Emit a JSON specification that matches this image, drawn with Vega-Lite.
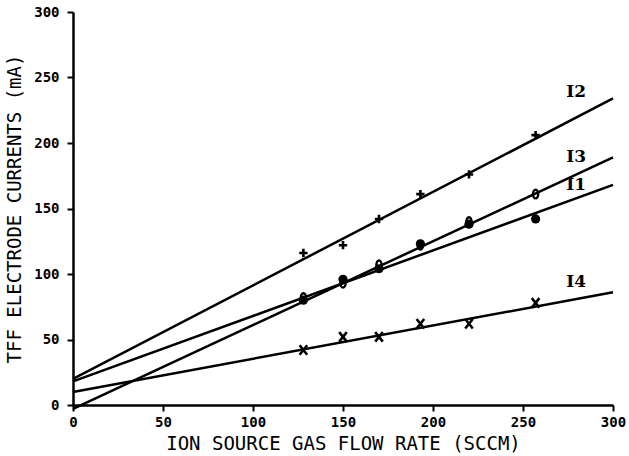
{
  "$schema": "https://vega.github.io/schema/vega-lite/v6.json",
  "width": 540,
  "height": 393,
  "autosize": {"type": "none"},
  "padding": {"left": 73, "top": 12, "right": 16, "bottom": 51},
  "background": "white",
  "config": {
    "view": {"stroke": null},
    "axis": {
      "grid": false,
      "domainColor": "black",
      "domainWidth": 2.5,
      "tickColor": "black",
      "tickWidth": 2,
      "tickSize": 6,
      "labelFlush": false,
      "labelOverlap": false,
      "labelBound": false,
      "labelFont": "DejaVu Sans Mono",
      "labelFontWeight": "bold",
      "labelFontSize": 14,
      "labelColor": "black",
      "titleFont": "DejaVu Sans Mono",
      "titleFontSize": 19,
      "titleFontWeight": "normal",
      "titleColor": "black"
    }
  },
  "datasets": {
    "fits": [
      {"series": "I2", "flow": 0, "current": 20},
      {"series": "I2", "flow": 300, "current": 234},
      {"series": "I1", "flow": 0, "current": 18},
      {"series": "I1", "flow": 300, "current": 168},
      {"series": "I3", "flow": 0, "current": -3},
      {"series": "I3", "flow": 300, "current": 189},
      {"series": "I4", "flow": 0, "current": 10},
      {"series": "I4", "flow": 300, "current": 86}
    ],
    "points": [
      {"series": "I2", "flow": 128, "current": 116},
      {"series": "I2", "flow": 150, "current": 122},
      {"series": "I2", "flow": 170, "current": 142},
      {"series": "I2", "flow": 193, "current": 161},
      {"series": "I2", "flow": 220, "current": 176},
      {"series": "I2", "flow": 257, "current": 206},
      {"series": "I3", "flow": 128, "current": 82},
      {"series": "I3", "flow": 150, "current": 93},
      {"series": "I3", "flow": 170, "current": 107},
      {"series": "I3", "flow": 193, "current": 122},
      {"series": "I3", "flow": 220, "current": 140},
      {"series": "I3", "flow": 257, "current": 161},
      {"series": "I1", "flow": 128, "current": 80},
      {"series": "I1", "flow": 150, "current": 96},
      {"series": "I1", "flow": 170, "current": 104},
      {"series": "I1", "flow": 193, "current": 123},
      {"series": "I1", "flow": 220, "current": 138},
      {"series": "I1", "flow": 257, "current": 142},
      {"series": "I4", "flow": 128, "current": 42},
      {"series": "I4", "flow": 150, "current": 52},
      {"series": "I4", "flow": 170, "current": 52},
      {"series": "I4", "flow": 193, "current": 62},
      {"series": "I4", "flow": 220, "current": 62},
      {"series": "I4", "flow": 257, "current": 78}
    ],
    "labels": [
      {"series": "I2", "flow": 274, "current": 239},
      {"series": "I3", "flow": 274, "current": 189},
      {"series": "I1", "flow": 274, "current": 168},
      {"series": "I4", "flow": 274, "current": 94}
    ]
  },
  "layer": [
    {
      "data": {"name": "fits"},
      "mark": {"type": "line", "color": "black", "strokeWidth": 2.5, "clip": false},
      "encoding": {
        "x": {
          "field": "flow", "type": "quantitative",
          "scale": {"domain": [0, 300], "nice": false},
          "axis": {"values": [0, 50, 100, 150, 200, 250, 300], "title": "ION SOURCE GAS FLOW RATE (SCCM)", "labelPadding": 4, "titlePadding": 5}
        },
        "y": {
          "field": "current", "type": "quantitative",
          "scale": {"domain": [0, 300], "nice": false},
          "axis": {"values": [0, 50, 100, 150, 200, 250, 300], "title": "TFF ELECTRODE CURRENTS (mA)", "labelPadding": 8, "titlePadding": 9}
        },
        "detail": {"field": "series"}
      }
    },
    {
      "data": {"name": "points"},
      "transform": [{"filter": "datum.series === 'I2'"}],
      "mark": {"type": "point", "shape": "M-1,0L1,0M0,-1L0,1", "filled": false, "color": "black", "strokeWidth": 2.6, "size": 70, "opacity": 1},
      "encoding": {
        "x": {"field": "flow", "type": "quantitative"},
        "y": {"field": "current", "type": "quantitative"}
      }
    },
    {
      "data": {"name": "points"},
      "transform": [{"filter": "datum.series === 'I4'"}],
      "mark": {"type": "point", "shape": "M-0.8,-1L0.8,1M-0.8,1L0.8,-1", "filled": false, "color": "black", "strokeWidth": 2.6, "size": 90, "opacity": 1},
      "encoding": {
        "x": {"field": "flow", "type": "quantitative"},
        "y": {"field": "current", "type": "quantitative"}
      }
    },
    {
      "data": {"name": "points"},
      "transform": [{"filter": "datum.series === 'I1'"}],
      "mark": {"type": "point", "shape": "circle", "filled": true, "color": "black", "size": 85, "opacity": 1},
      "encoding": {
        "x": {"field": "flow", "type": "quantitative"},
        "y": {"field": "current", "type": "quantitative"}
      }
    },
    {
      "data": {"name": "points"},
      "transform": [{"filter": "datum.series === 'I3'"}],
      "mark": {"type": "point", "shape": "M-0.6,0A0.6,1,0,1,1,0.6,0A0.6,1,0,1,1,-0.6,0Z", "filled": false, "color": "black", "strokeWidth": 2.4, "size": 75, "opacity": 1},
      "encoding": {
        "x": {"field": "flow", "type": "quantitative"},
        "y": {"field": "current", "type": "quantitative"}
      }
    },
    {
      "data": {"name": "labels"},
      "mark": {"type": "text", "align": "left", "baseline": "middle", "font": "DejaVu Serif", "fontWeight": "bold", "fontSize": 17, "color": "black"},
      "encoding": {
        "x": {"field": "flow", "type": "quantitative"},
        "y": {"field": "current", "type": "quantitative"},
        "text": {"field": "series"}
      }
    }
  ]
}
